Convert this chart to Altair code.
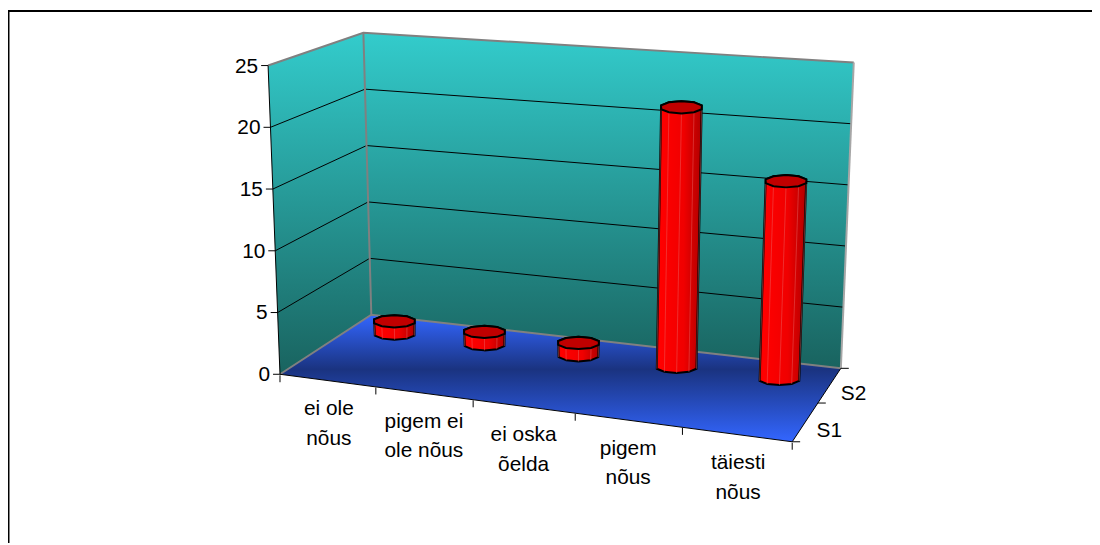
import altair as alt
import numpy as np
import pandas as pd

# ---- data ----
categories = ["ei ole\nnõus", "pigem ei\nole nõus", "ei oska\nõelda", "pigem\nnõus", "täiesti\nnõus"]
series_names = ["S1", "S2"]
s2_values = [1, 1, 1, 21, 16]
y_ticks = [0, 5, 10, 15, 20, 25]

# ---- 3D projection of the Excel box (page pixels) ----
W, H = 1092, 537
FL, FR, BR, BL = (282, 375), (798, 443), (847, 369), (374, 315)
FL_T, BL_T, BR_T = (270, 64), (366, 31), (860, 61)
Y_MAX = 25
BAR_UNIT = 12.45


def lerp(a, b, t):
    return (a[0] + (b[0] - a[0]) * t, a[1] + (b[1] - a[1]) * t)


def floor(u, v):
    x0, y0 = FL; x1, y1 = FR; x2, y2 = BR; x3, y3 = BL
    dx1, dx2, sx = x1 - x2, x3 - x2, x0 - x1 + x2 - x3
    dy1, dy2, sy = y1 - y2, y3 - y2, y0 - y1 + y2 - y3
    det = dx1 * dy2 - dx2 * dy1
    g = (sx * dy2 - dx2 * sy) / det
    h = (dx1 * sy - sx * dy1) / det
    a, b, c = x1 - x0 + g * x1, x3 - x0 + h * x3, x0
    d, e, f = y1 - y0 + g * y1, y3 - y0 + h * y3, y0
    w = g * u + h * v + 1
    return ((a * u + b * v + c) / w, (d * u + e * v + f) / w)


def envelope(poly):
    """Convex polygon -> rows for an area mark (x, y, y2)."""
    pts = list(poly)
    xs = sorted({p[0] for p in pts})
    rows = []
    n = len(pts)
    for x in xs:
        ys = []
        for i in range(n):
            (xa, ya), (xb, yb) = pts[i], pts[(i + 1) % n]
            if min(xa, xb) <= x <= max(xa, xb):
                if xa == xb:
                    ys += [ya, yb]
                else:
                    ys.append(ya + (yb - ya) * (x - xa) / (xb - xa))
        rows.append({"x": x, "y": min(ys), "y2": max(ys)})
    return rows


X = alt.X("x:Q", scale=alt.Scale(domain=[8, 8 + W], range=[0, W]), axis=None)
Y = alt.Y("y:Q", scale=alt.Scale(domain=[8, 8 + H], range=[0, H]), axis=None)
Y2 = alt.Y2("y2:Q")


def area(poly, fill, **kw):
    df = pd.DataFrame(envelope(poly))
    return alt.Chart(df).mark_area(color=fill, orient="vertical", **kw).encode(x=X, y=Y, y2=Y2)


def lines(segs, color, width, opacity=1.0):
    rows = []
    for k, seg in enumerate(segs):
        for i, p in enumerate(seg):
            rows.append({"id": k, "i": i, "x": p[0], "y": p[1]})
    return alt.Chart(pd.DataFrame(rows)).mark_line(
        color=color, strokeWidth=width, opacity=opacity
    ).encode(x=X, y=Y, detail="id:N", order="i:Q")


def texts(rows, align):
    return alt.Chart(pd.DataFrame(rows)).mark_text(
        font="Liberation Sans", fontSize=21, color="black", align=align, baseline="alphabetic"
    ).encode(x=X, y=Y, text="t:N")


def vgrad(stops):
    return alt.Gradient(
        gradient="linear", x1=0, x2=0, y1=0, y2=1,
        stops=[alt.GradientStop(offset=o, color=c) for o, c in stops],
    )


wall_fill = vgrad([(0, "#33CCCC"), (1, "#19635F")])
floor_fill = vgrad([(0, "#3366FF"), (0.43, "#1A3380"), (1, "#3366FF")])
body_fill = alt.Gradient(
    gradient="linear", x1=0, x2=1, y1=0, y2=0,
    stops=[alt.GradientStop(offset=0, color="#F00000"),
           alt.GradientStop(offset=0.08, color="#FF0000"),
           alt.GradientStop(offset=0.6, color="#F00000"),
           alt.GradientStop(offset=1, color="#B00000")],
)

layers = [
    area([BL_T, BR_T, BR, BL], wall_fill),
    area([FL_T, BL_T, BL, FL], wall_fill),
    area([FL, BL, BR, FR], floor_fill),
]

# gridlines on the two walls
grid = []
for t in y_ticks[1:-1]:
    h = t / Y_MAX
    grid.append([lerp(FL, FL_T, h), lerp(BL, BL_T, h), lerp(BR, BR_T, h)])
layers.append(lines(grid, "#000000", 1))

# wall edges
layers.append(lines([[FL_T, BL_T, BR_T], [BL_T, BL], [FL, BL, BR]], "#808080", 2))
layers.append(lines([[BR_T, BR]], "#A6A6A6", 2))

# axis lines and ticks
axes = [[FL_T, FL], [FL, FR, BR]]
for t in y_ticks:
    p = lerp(FL, FL_T, t / Y_MAX)
    axes.append([(p[0] - 7, p[1]), p])
for i in range(len(categories) + 1):
    p = floor(i / len(categories), 0)
    nudge = 3 if 0 < i < len(categories) else 0
    axes.append([(p[0] + nudge, p[1] + 1), (p[0] + nudge, p[1] + 8)])
for v in [0, 0.5, 1]:
    p = floor(1, v)
    axes.append([p, (p[0] + 8, p[1])])
layers.append(lines(axes, "#000000", 1))

# cylinders
bar_u = [(i + 0.5) / len(categories) for i in range(len(categories))]
ANG = np.radians(np.arange(0, 360, 36) + 18)
for u, val in zip(bar_u, s2_values):
    cx, cy = floor(u, 0.75)
    cx += 1 + 2 * u
    rel = (cx - FL[0]) / (BR[0] - FL[0])
    slant = -0.0386 + (0.042 + 0.0386) * rel
    top_y = cy - val * BAR_UNIT
    top_x = cx + slant * (cy - top_y)
    rx, ry = 21, 6.2
    base = [(cx + rx * np.cos(a), cy + ry * np.sin(a)) for a in ANG]
    top = [(top_x + (rx + 0.5) * np.cos(a), top_y + ry * np.sin(a)) for a in ANG]
    front = [k for k, a in enumerate(ANG) if np.sin(a) > 0]   # lower arc
    back = [k for k, a in enumerate(ANG) if np.sin(a) < 0]    # upper arc
    body = [top[k] for k in back] + [base[k] for k in front]
    layers.append(area(body, body_fill, stroke="black", strokeWidth=2))
    layers.append(lines([[top[k], base[k]] for k in front], "#E87070", 0.7, 0.6))
    layers.append(area(top, "#C00000", stroke="black", strokeWidth=2))

# value labels
y_rows = []
for t in y_ticks:
    p = lerp(FL, FL_T, t / Y_MAX)
    y_rows.append({"x": p[0] - 10, "y": p[1] + 7, "t": str(t)})
layers.append(texts(y_rows, "right"))

# category labels (two rows each)
cat_rows = []
for i, c in enumerate(categories):
    p = floor(bar_u[i], 0)
    for k, line in enumerate(c.split("\n")):
        cat_rows.append({"x": p[0] + 3, "y": p[1] + 35 + 30 * k, "t": line})
layers.append(texts(cat_rows, "center"))

# series labels
s_rows = []
for name, v in zip(series_names, [0.25, 0.75]):
    p = floor(1, v)
    s_rows.append({"x": p[0] + 24, "y": p[1] + 15, "t": name})
layers.append(texts(s_rows, "center"))

# chart frame: only the top and left edges fall inside the window
layers.append(lines([[(8.5, 545), (8.5, 9), (1100, 9)]], "#000000", 2))

chart = alt.layer(*layers).properties(
    width=W, height=H, padding=0, autosize=alt.AutoSizeParams(type="none"), background="white",
    usermeta={"embedOptions": {"defaultStyle": False}},
).configure_view(stroke=None)

chart.save("out.html", embed_options={"renderer": "svg", "actions": False})
